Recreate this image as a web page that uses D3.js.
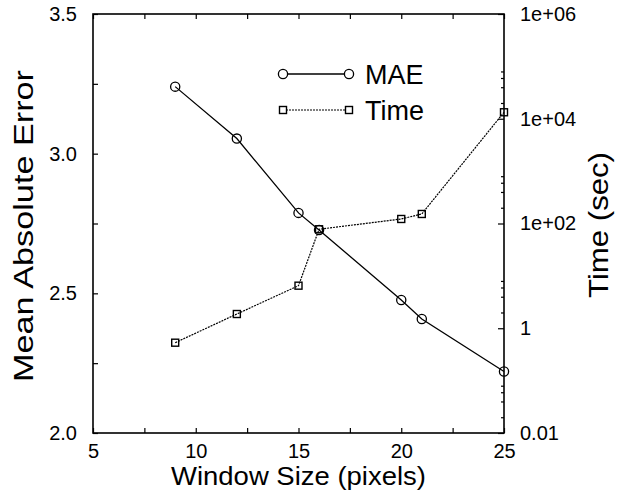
<!DOCTYPE html>
<html>
<head>
<meta charset="utf-8">
<script src="https://cdn.jsdelivr.net/npm/d3@7"></script>
<style>
  body { margin: 0; background: #fff; }
  svg { font-family: "Liberation Sans", Arial, Helvetica, sans-serif; }
  .tick text { font-size: 20px; fill: #000; }
  .tick line { stroke: #000; stroke-width: 1.2; }
</style>
</head>
<body>
<div id="chart"></div>
<script>
// data
var windowSizes = [9, 12, 15, 16, 20, 21, 25];
var maeValues = [3.24, 3.054, 2.788, 2.727, 2.476, 2.408, 2.22];
var timeValues = [0.53, 1.87, 6.5, 77.6, 122, 152, 13300];

var xTicks = [5, 7.5, 10, 12.5, 15, 17.5, 20, 22.5, 25];
var yTicks = [2.0, 2.25, 2.5, 2.75, 3.0, 3.25, 3.5];
var timeTicks = [0.01, 1, 100, 1e4, 1e6];
var timeTickLabels = ["0.01", "1", "1e+02", "1e+04", "1e+06"];
var timeMinorSteps = [2, 4, 6, 8];

var svgWidth = 626;
var svgHeight = 493;

var margin = {
  top: 14,
  bottom: 60,
  right: 122,
  left: 93
};

var width = svgWidth - margin.left - margin.right;
var height = svgHeight - margin.top - margin.bottom;

var svg = d3.select("#chart")
  .append("svg")
  .attr("width", svgWidth)
  .attr("height", svgHeight);

var chartGroup = svg.append("g")
  .attr("transform", `translate(${margin.left}, ${margin.top})`);

// scales
var xScale = d3.scaleLinear().domain([5, 25]).range([0, width]);
var yScale = d3.scaleLinear().domain([2.0, 3.5]).range([height, 0]);
var tScale = d3.scaleLog().domain([0.01, 1e6]).range([height, 0]);

// axes, ticks drawn inward
var xAxis = d3.axisBottom(xScale)
  .tickValues(xTicks)
  .tickSizeInner(-5).tickSizeOuter(0).tickPadding(11)
  .tickFormat(d => d % 5 === 0 ? d3.format("d")(d) : "");

var xAxisTop = d3.axisTop(xScale)
  .tickValues(xTicks)
  .tickSizeInner(-5).tickSizeOuter(0)
  .tickFormat("");

var yAxis = d3.axisLeft(yScale)
  .tickValues(yTicks)
  .tickSizeInner(-5).tickSizeOuter(0).tickPadding(16)
  .tickFormat(d => Math.abs(d * 2 - Math.round(d * 2)) < 1e-9 ? d3.format(".1f")(d) : "");

var tAxis = d3.axisRight(tScale)
  .tickValues(timeTicks)
  .tickSizeInner(-6).tickSizeOuter(0).tickPadding(16)
  .tickFormat((d, i) => timeTickLabels[i]);

var minorValues = [];
timeTicks.slice(0, -1).forEach(function(t) {
  timeMinorSteps.forEach(function(k) { minorValues.push(t * k); });
});
var tAxisMinor = d3.axisRight(tScale)
  .tickValues(minorValues)
  .tickSizeInner(-3).tickSizeOuter(0)
  .tickFormat("");

chartGroup.append("g")
  .attr("transform", `translate(0, ${height})`)
  .call(xAxis);
chartGroup.append("g").call(xAxisTop);
chartGroup.append("g").call(yAxis);
chartGroup.append("g")
  .attr("transform", `translate(${width}, 0)`)
  .call(tAxis);
chartGroup.append("g")
  .attr("transform", `translate(${width}, 0)`)
  .call(tAxisMinor);

chartGroup.selectAll(".domain").remove();

// frame
chartGroup.append("rect")
  .attr("width", width)
  .attr("height", height)
  .attr("fill", "none")
  .attr("stroke", "black")
  .attr("stroke-width", 1.6);

// series
var maeData = windowSizes.map((w, i) => ({x: w, y: maeValues[i]}));
var timeData = windowSizes.map((w, i) => ({x: w, y: timeValues[i]}));

var maeLine = d3.line().x(d => xScale(d.x)).y(d => yScale(d.y));
var timeLine = d3.line().x(d => xScale(d.x)).y(d => tScale(d.y));

chartGroup.append("path")
  .datum(timeData)
  .attr("d", timeLine)
  .attr("fill", "none")
  .attr("stroke", "black")
  .attr("stroke-width", 1.2)
  .attr("stroke-dasharray", "2,1");

chartGroup.selectAll(".tmark")
  .data(timeData)
  .enter()
  .append("rect")
  .attr("class", "tmark")
  .attr("x", d => xScale(d.x) - 3.5)
  .attr("y", d => tScale(d.y) - 3.5)
  .attr("width", 7)
  .attr("height", 7)
  .attr("fill", "none")
  .attr("stroke", "black")
  .attr("stroke-width", 1.4);

chartGroup.append("path")
  .datum(maeData)
  .attr("d", maeLine)
  .attr("fill", "none")
  .attr("stroke", "black")
  .attr("stroke-width", 1.3);

chartGroup.selectAll(".mmark")
  .data(maeData)
  .enter()
  .append("circle")
  .attr("class", "mmark")
  .attr("cx", d => xScale(d.x))
  .attr("cy", d => yScale(d.y))
  .attr("r", 4.6)
  .attr("fill", "none")
  .attr("stroke", "black")
  .attr("stroke-width", 1.3);

// legend
var legend = svg.append("g");
var legendItems = [
  {label: "MAE", y: 74, dash: null, mark: "circle"},
  {label: "Time", y: 110, dash: "2,1", mark: "square"}
];
legendItems.forEach(function(item) {
  legend.append("line")
    .attr("x1", 283).attr("x2", 349)
    .attr("y1", item.y).attr("y2", item.y)
    .attr("stroke", "black")
    .attr("stroke-width", item.dash ? 1.2 : 1.3)
    .attr("stroke-dasharray", item.dash);
  [283, 349].forEach(function(cx) {
    if (item.mark == "circle") {
      legend.append("circle")
        .attr("cx", cx).attr("cy", item.y).attr("r", 4.6)
        .attr("fill", "white").attr("stroke", "black").attr("stroke-width", 1.3);
    } else {
      legend.append("rect")
        .attr("x", cx - 3.5).attr("y", item.y - 3.5)
        .attr("width", 7).attr("height", 7)
        .attr("fill", "white").attr("stroke", "black").attr("stroke-width", 1.4);
    }
  });
  legend.append("text")
    .attr("x", 365)
    .attr("y", item.y)
    .attr("dy", "0.36em")
    .style("font-size", "27px")
    .text(item.label);
});

// axis titles
svg.append("text")
  .attr("transform", `translate(${margin.left + width / 2}, 485)`)
  .style("text-anchor", "middle")
  .style("font-size", "26px")
  .attr("textLength", 255)
  .attr("lengthAdjust", "spacingAndGlyphs")
  .text("Window Size (pixels)");

svg.append("text")
  .attr("transform", `translate(33, 226) rotate(-90)`)
  .style("text-anchor", "middle")
  .style("font-size", "27px")
  .attr("textLength", 312)
  .attr("lengthAdjust", "spacingAndGlyphs")
  .text("Mean Absolute Error");

svg.append("text")
  .attr("transform", `translate(608, 225) rotate(-90)`)
  .style("text-anchor", "middle")
  .style("font-size", "27px")
  .attr("textLength", 146)
  .attr("lengthAdjust", "spacingAndGlyphs")
  .text("Time (sec)");
</script>
</body>
</html>
